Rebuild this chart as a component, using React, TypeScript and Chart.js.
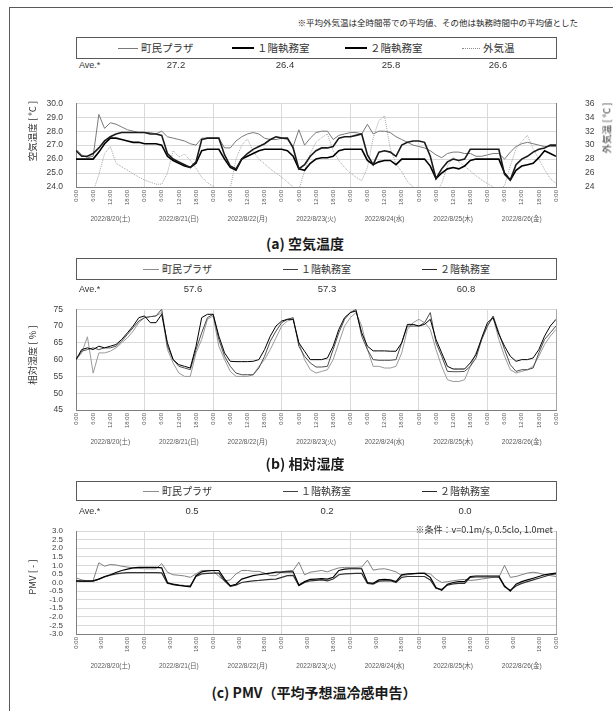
import React, { useEffect, useRef } from 'react';
import { Chart, registerables } from 'chart.js';
Chart.register(...registerables);

const SANS = '"Liberation Sans", "Noto Sans CJK JP", sans-serif';
const CJK = '"Noto Sans CJK JP", "Liberation Sans", sans-serif';
const W = 613;
const PLOT_LEFT = 76;
const PLOT_RIGHT = 556;

// sampling hours (every 2 h over 7 days)
const HOURS = Array.from({ length: 85 }, (_, i) => i * 2);
const DAY_LABELS = ['2022/8/20(土)', '2022/8/21(日)', '2022/8/22(月)', '2022/8/23(火)', '2022/8/24(水)', '2022/8/25(木)', '2022/8/26(金)'];
const TICKS_6H = [0, 6, 12, 18, 24, 30, 36, 42, 48, 54, 60, 66, 72, 78, 84, 90, 96, 102, 108, 114, 120, 126, 132, 138, 144, 150, 156, 162, 168];
const TICKS_9H = [0, 9, 18, 24, 33, 42, 48, 57, 66, 72, 81, 90, 96, 105, 114, 120, 129, 138, 144, 153, 162, 168];

const SERIES_NAMES = ['町民プラザ', '１階執務室', '２階執務室', '外気温'];

// (a) air temperature [°C]
const TEMP_PLAZA = [
  26.7, 26.3, 26.1, 26.2, 29.2, 28.2, 28.6, 28.5, 28.3, 28.1, 28.0, 27.9,
  27.9, 27.9, 27.8, 28.0, 27.6, 27.5, 27.4, 27.3, 27.1, 27.0, 27.5, 27.5,
  27.5, 27.5, 26.8, 26.8, 27.3, 27.6, 27.8, 27.9, 27.8, 27.5, 27.4, 27.4,
  27.5, 27.4, 26.9, 28.1, 27.0, 27.5, 27.9, 28.0, 28.0, 27.4, 27.7, 27.8,
  27.9, 27.9, 27.8, 28.5, 27.8, 28.0, 28.0, 27.9, 27.6, 27.4, 27.2, 27.0,
  26.9, 26.8, 26.6, 26.3, 26.1, 26.4, 26.5, 26.5, 26.4, 26.4, 26.2, 26.2,
  26.3, 26.4, 26.4, 26.0, 26.5, 26.9, 27.1, 27.2, 27.1, 27.0, 26.9, 26.9, 26.9,
];
const TEMP_F1 = [
  26.6, 26.2, 26.2, 26.4, 26.8, 27.3, 27.6, 27.8, 27.9, 27.9, 27.9, 27.9,
  27.9, 27.8, 27.8, 27.7, 26.4, 26.0, 25.8, 25.6, 25.4, 25.8, 27.4, 27.5,
  27.5, 27.5, 26.3, 25.5, 25.3, 26.0, 26.4, 26.7, 26.9, 27.1, 27.4, 27.6,
  27.5, 27.5, 26.8, 25.3, 25.6, 26.2, 26.6, 26.8, 26.8, 26.9, 27.5, 27.6,
  27.6, 27.7, 27.8, 26.3, 25.6, 26.5, 26.6, 26.5, 26.2, 27.0, 27.2, 27.3,
  27.3, 27.2, 26.2, 24.6, 25.3, 25.8, 26.0, 25.9, 26.0, 26.7, 26.7, 26.7,
  26.7, 26.7, 26.7, 24.9, 24.5, 25.6, 26.0, 26.2, 26.5, 26.7, 26.8, 27.0, 27.0,
];
const TEMP_F2 = [
  26.0, 26.0, 26.0, 26.0, 26.5, 27.1, 27.5, 27.5, 27.4, 27.3, 27.2, 27.2,
  27.1, 27.1, 27.1, 27.0, 26.2, 25.9, 25.7, 25.5, 25.4, 25.7, 26.6, 26.7,
  26.7, 26.7, 26.0, 25.4, 25.2, 26.0, 26.2, 26.4, 26.6, 26.7, 26.7, 26.7,
  26.7, 26.6, 26.2, 25.3, 25.2, 25.7, 26.0, 26.1, 26.1, 26.2, 26.6, 26.7,
  26.7, 26.7, 26.7, 25.9, 25.6, 25.8, 25.9, 25.9, 25.6, 26.0, 26.0, 26.0,
  26.0, 26.0, 25.5, 24.6, 25.0, 25.3, 25.4, 25.3, 25.5, 25.9, 26.0, 26.0,
  26.0, 26.0, 26.0, 25.0, 24.5, 25.2, 25.5, 25.6, 25.7, 26.1, 26.6, 26.4, 26.2,
];
const TEMP_OUT = [
  23.0, 22.7, 22.5, 23.3, 25.8, 28.8, 29.8, 27.4, 26.9, 26.4, 25.9, 25.4,
  25.0, 24.7, 24.4, 24.4, 26.0, 29.2, 28.3, 28.7, 27.8, 26.7, 25.4, 24.6,
  24.1, 23.5, 23.0, 23.8, 28.0, 30.0, 30.9, 29.1, 28.0, 27.3, 26.6, 26.0,
  25.4, 24.7, 24.0, 23.6, 26.3, 28.8, 30.4, 31.1, 31.6, 29.2, 27.8, 26.8,
  26.0, 25.4, 24.9, 26.8, 31.0, 33.5, 34.2, 29.5, 27.3, 26.2, 24.8, 24.0,
  23.6, 23.2, 23.0, 23.3, 24.5, 27.0, 28.3, 27.6, 27.0, 26.3, 25.6, 25.0,
  24.5, 24.0, 23.6, 24.2, 27.0, 29.5, 30.5, 31.4, 29.5, 28.0, 26.5, 25.2, 24.5,
];
const TEMP_AVE = ['27.2', '26.4', '25.8', '26.6'];

// (b) relative humidity [%]
const RH_PLAZA = [
  60.0, 62.0, 66.8, 56.0, 62.0, 62.0, 62.5, 63.5, 65.0, 66.5, 68.5, 71.0,
  72.5, 72.8, 73.0, 74.0, 63.0, 59.0, 56.0, 55.0, 55.0, 62.0, 66.0, 72.0,
  73.0, 64.0, 60.0, 56.5, 55.0, 55.0, 55.0, 55.5, 58.0, 60.0, 63.0, 66.5,
  70.0, 71.5, 72.0, 65.0, 60.0, 57.0, 56.0, 56.5, 57.0, 60.0, 65.0, 70.0,
  72.5, 74.0, 70.0, 63.0, 58.0, 58.0, 57.5, 57.5, 58.0, 62.0, 69.0, 71.0,
  72.0, 71.0, 69.0, 63.0, 58.0, 54.0, 53.5, 53.5, 54.0, 58.0, 62.0, 66.0,
  70.0, 72.5, 66.0, 61.0, 57.0, 56.0, 56.5, 57.0, 58.0, 61.0, 64.5, 67.0, 69.0,
];
const RH_F1 = [
  60.0, 62.5, 63.0, 63.5, 63.0, 63.5, 63.5, 64.0, 65.5, 67.5, 69.5, 71.5,
  72.5, 72.8, 73.0, 75.0, 64.0, 60.0, 58.0, 57.5, 57.0, 63.0, 68.0, 72.5,
  73.5, 66.0, 61.0, 58.0, 56.0, 55.5, 55.5, 55.5, 57.5, 61.0, 65.5, 68.5,
  71.0, 72.0, 72.5, 64.0, 61.0, 59.0, 57.8, 57.8, 58.0, 63.0, 68.0, 72.0,
  74.0, 75.0, 67.0, 63.0, 60.0, 59.8, 59.8, 59.8, 60.0, 65.0, 70.0, 70.0,
  70.0, 71.0, 74.0, 65.0, 61.0, 56.5, 56.4, 56.4, 56.5, 58.0, 60.5, 66.0,
  70.0, 73.0, 68.0, 63.0, 58.5, 56.5, 57.0, 57.0, 57.5, 62.0, 66.0, 68.0, 70.0,
];
const RH_F2 = [
  60.0, 63.0, 63.5, 63.0, 64.0, 63.5, 64.0, 64.5, 66.0, 68.0, 70.0, 72.5,
  73.0, 71.0, 71.0, 73.5, 65.0, 60.0, 58.5, 58.0, 57.5, 64.0, 72.5, 73.5,
  73.5, 67.0, 62.0, 59.5, 59.4, 59.4, 59.4, 59.5, 60.0, 63.0, 67.0, 70.0,
  71.5, 72.0, 72.0, 65.0, 62.5, 60.0, 60.0, 60.0, 60.5, 64.0, 69.0, 72.5,
  74.0, 74.5, 68.0, 64.0, 62.6, 62.6, 62.6, 62.5, 62.5, 65.0, 70.5, 70.5,
  70.0, 70.5, 72.0, 66.0, 62.0, 58.0, 57.2, 57.2, 57.2, 59.0, 61.5, 66.5,
  71.0, 72.5, 67.5, 64.0, 61.0, 59.5, 60.0, 60.0, 60.5, 63.0, 67.0, 70.0, 72.0,
];
const RH_AVE = ['57.6', '57.3', '60.8'];

// (c) PMV [-]
const PMV_PLAZA = [
  0.27, 0.15, 0.10, 0.12, 1.15, 0.95, 1.05, 1.02, 0.95, 0.90, 0.85, 0.82,
  0.80, 0.80, 0.80, 1.10, 0.60, 0.45, 0.42, 0.38, 0.30, 0.50, 0.70, 0.70,
  0.70, 0.35, 0.10, 0.15, 0.50, 0.70, 0.70, 0.65, 0.65, 0.55, 0.40, 0.40,
  0.62, 0.68, 0.70, 1.18, 0.45, 0.60, 0.65, 0.70, 0.62, 0.75, 0.85, 0.88,
  0.88, 0.88, 0.90, 1.30, 0.72, 0.78, 0.80, 0.72, 0.62, 0.40, 0.45, 0.50,
  0.55, 0.55, 0.50, 0.20, 0.00, 0.05, 0.10, 0.15, 0.18, 0.12, 0.15, 0.20,
  0.25, 0.30, 0.30, 1.00, 0.30, 0.35, 0.45, 0.55, 0.60, 0.55, 0.45, 0.40, 0.35,
];
const PMV_F1 = [
  0.10, 0.08, 0.08, 0.10, 0.20, 0.35, 0.45, 0.58, 0.70, 0.78, 0.85, 0.88,
  0.88, 0.88, 0.88, 0.85, 0.00, -0.12, -0.17, -0.22, -0.26, 0.40, 0.62, 0.68,
  0.70, 0.70, 0.20, -0.20, -0.10, 0.20, 0.30, 0.40, 0.45, 0.50, 0.55, 0.60,
  0.60, 0.62, 0.62, -0.15, 0.05, 0.18, 0.20, 0.22, 0.20, 0.30, 0.70, 0.78,
  0.80, 0.80, 0.80, 0.00, -0.05, 0.15, 0.18, 0.15, 0.05, 0.45, 0.50, 0.52,
  0.53, 0.53, 0.30, -0.30, -0.45, -0.10, 0.00, 0.05, 0.05, 0.35, 0.38, 0.38,
  0.38, 0.38, 0.38, -0.20, -0.50, -0.10, 0.05, 0.15, 0.25, 0.35, 0.45, 0.50, 0.55,
];
const PMV_F2 = [
  0.08, 0.08, 0.08, 0.08, 0.20, 0.32, 0.42, 0.50, 0.55, 0.57, 0.58, 0.58,
  0.58, 0.58, 0.58, 0.56, -0.05, -0.10, -0.15, -0.18, -0.20, 0.35, 0.50, 0.53,
  0.55, 0.55, 0.10, -0.22, -0.15, 0.00, 0.05, 0.10, 0.12, 0.15, 0.18, 0.20,
  0.30, 0.40, 0.42, -0.18, 0.00, 0.10, 0.12, 0.15, 0.10, 0.20, 0.45, 0.50,
  0.52, 0.53, 0.53, -0.05, -0.10, 0.08, 0.10, 0.10, 0.00, 0.30, 0.35, 0.35,
  0.35, 0.35, 0.15, -0.35, -0.40, -0.15, -0.08, -0.05, -0.05, 0.30, 0.32, 0.32,
  0.32, 0.32, 0.32, -0.25, -0.45, -0.20, -0.05, 0.05, 0.15, 0.25, 0.35, 0.45, 0.50,
];
const PMV_AVE = ['0.5', '0.2', '0.0'];

const pts = (vals: number[]) => HOURS.map((h, i) => ({ x: h, y: vals[i] }));

const dayLabelPlugin = {
  id: 'dayLabels',
  afterDraw(chart: any) {
    const { ctx, chartArea, scales } = chart;
    ctx.save();
    ctx.font = `6.5px ${SANS}`;
    ctx.fillStyle = '#595959';
    ctx.textAlign = 'center';
    ctx.textBaseline = 'middle';
    DAY_LABELS.forEach((t, i) => {
      ctx.fillText(t, scales.x.getPixelForValue(i * 24 + 12), chartArea.bottom + 32);
    });
    ctx.restore();
  },
};

function makeConfig(o: {
  canvasTop: number; canvasHeight: number; plotTop: number; plotBottom: number;
  ticks: number[]; datasets: any[]; y: any; y2?: any;
}) {
  const xHeight = o.canvasHeight - (o.plotBottom - o.canvasTop);
  const scales: any = {
    x: {
      type: 'linear', min: 0, max: 168, position: 'bottom',
      afterBuildTicks: (s: any) => { s.ticks = o.ticks.map((v) => ({ value: v })); },
      afterFit: (s: any) => { s.height = xHeight; },
      ticks: {
        autoSkip: false, minRotation: 90, maxRotation: 90, padding: 3, color: '#595959',
        font: { family: SANS, size: 6 },
        callback: (v: any) => `${Number(v) % 24}:00`,
      },
      grid: {
        drawTicks: false,
        color: (c: any) => (c.tick && c.tick.value % 24 === 0 ? (c.tick.value === 168 ? '#a6a6a6' : '#d9d9d9') : 'rgba(0,0,0,0)'),
      },
      border: { color: '#7f7f7f' },
    },
    y: {
      ...o.y, position: 'left',
      afterFit: (s: any) => { s.width = PLOT_LEFT; },
      grid: { color: '#d9d9d9', drawTicks: false },
      border: { color: '#7f7f7f' },
    },
  };
  if (o.y2) {
    scales.y2 = {
      ...o.y2, position: 'right',
      afterFit: (s: any) => { s.width = W - PLOT_RIGHT; },
      grid: { drawOnChartArea: false, drawTicks: false },
      border: { color: '#7f7f7f' },
    };
  }
  return {
    type: 'line',
    data: { datasets: o.datasets },
    options: {
      responsive: false,
      animation: false,
      events: [],
      layout: { padding: { top: o.plotTop - o.canvasTop, right: o.y2 ? 0 : W - PLOT_RIGHT, left: 0, bottom: 0 } },
      elements: { point: { radius: 0 }, line: { tension: 0 } },
      plugins: { legend: { display: false }, tooltip: { enabled: false }, title: { display: false } },
      scales,
    },
    plugins: [dayLabelPlugin],
  } as any;
}

const yTicks = (extra: any) => ({ autoSkip: false, color: '#404040', font: { family: SANS, size: 8.5, lineHeight: 1 }, padding: 13, ...extra });

function ChartCanvas({ top, height, config }: { top: number; height: number; config: () => any }) {
  const ref = useRef<HTMLCanvasElement>(null);
  useEffect(() => {
    const chart = new Chart(ref.current as HTMLCanvasElement, config());
    return () => chart.destroy();
  }, []);
  return <canvas ref={ref} width={W} height={height} style={{ position: 'absolute', left: 0, top, width: W, height }} />;
}

function Txt({ x, y, children, size = 9, font = SANS, align = 'center', weight = 400, color = '#333' }: any) {
  const tx = align === 'center' ? '-50%' : align === 'right' ? '-100%' : '0';
  return (
    <div style={{ position: 'absolute', left: x, top: y, transform: `translate(${tx}, -50%)`, fontSize: size, fontFamily: font, fontWeight: weight, color, whiteSpace: 'nowrap', lineHeight: 1 }}>
      {children}
    </div>
  );
}

function VTxt({ x, y, children, size = 9.5 }: any) {
  return (
    <div style={{ position: 'absolute', left: x, top: y, transform: 'translate(-50%, -50%) rotate(-90deg)', fontSize: size, fontFamily: CJK, color: '#333', whiteSpace: 'nowrap', lineHeight: 1 }}>
      {children}
    </div>
  );
}

function LegendLine({ x, y, w, style }: any) {
  return <div style={{ position: 'absolute', left: x, top: y, width: w, height: 0, borderTop: style }} />;
}

function LegendBox({ top, height }: any) {
  return <div style={{ position: 'absolute', left: PLOT_LEFT, top, width: PLOT_RIGHT - PLOT_LEFT + 1, height, boxSizing: 'border-box', border: '1px solid #595959' }} />;
}

export default function App() {
  const cfgA = () => makeConfig({
    canvasTop: 70, canvasHeight: 160, plotTop: 76, plotBottom: 187, ticks: TICKS_6H,
    y: { min: 24, max: 30, ticks: yTicks({ stepSize: 1, callback: (v: any) => Number(v).toFixed(1) }) },
    y2: { min: 24, max: 36, ticks: yTicks({ stepSize: 2, padding: 29, callback: (v: any) => String(v) }) },
    datasets: [
      { label: SERIES_NAMES[1], data: pts(TEMP_F1), borderColor: '#1a1a1a', borderWidth: 1.6, yAxisID: 'y' },
      { label: SERIES_NAMES[2], data: pts(TEMP_F2), borderColor: '#000000', borderWidth: 1.6, yAxisID: 'y' },
      { label: SERIES_NAMES[0], data: pts(TEMP_PLAZA), borderColor: '#7a7a7a', borderWidth: 1, yAxisID: 'y' },
      { label: SERIES_NAMES[3], data: pts(TEMP_OUT), borderColor: '#a6a6a6', borderWidth: 1, borderDash: [1, 1], yAxisID: 'y2' },
    ],
  });
  const cfgB = () => makeConfig({
    canvasTop: 292, canvasHeight: 165, plotTop: 298, plotBottom: 410, ticks: TICKS_6H,
    y: { min: 45, max: 75, ticks: yTicks({ stepSize: 5, callback: (v: any) => String(v) }) },
    datasets: [
      { label: SERIES_NAMES[2], data: pts(RH_F2), borderColor: '#000000', borderWidth: 1 },
      { label: SERIES_NAMES[1], data: pts(RH_F1), borderColor: '#4d4d4d', borderWidth: 1 },
      { label: SERIES_NAMES[0], data: pts(RH_PLAZA), borderColor: '#9a9a9a', borderWidth: 1 },
    ],
  });
  const cfgC = () => makeConfig({
    canvasTop: 514, canvasHeight: 165, plotTop: 520, plotBottom: 634, ticks: TICKS_9H,
    y: { min: -3, max: 3, ticks: yTicks({ stepSize: 0.5, font: { family: SANS, size: 8, lineHeight: 1 }, callback: (v: any) => Number(v).toFixed(1) }) },
    datasets: [
      { label: SERIES_NAMES[1], data: pts(PMV_F1), borderColor: '#000000', borderWidth: 1.2 },
      { label: SERIES_NAMES[2], data: pts(PMV_F2), borderColor: '#333333', borderWidth: 1.2 },
      { label: SERIES_NAMES[0], data: pts(PMV_PLAZA), borderColor: '#808080', borderWidth: 1 },
    ],
  });

  const legendBC = (ty: number) => (
    <>
      <LegendLine x={143} y={ty} w={16} style="1px solid #8c8c8c" />
      <Txt x={162} y={ty} align="left" size={10} font={CJK}>{SERIES_NAMES[0]}</Txt>
      <LegendLine x={283} y={ty} w={15} style="1px solid #404040" />
      <Txt x={301} y={ty} align="left" size={10} font={CJK}>{SERIES_NAMES[1]}</Txt>
      <LegendLine x={422} y={ty} w={15} style="1px solid #262626" />
      <Txt x={440} y={ty} align="left" size={10} font={CJK}>{SERIES_NAMES[2]}</Txt>
    </>
  );

  return (
    <div style={{ position: 'fixed', left: 0, top: 0, width: W, height: 711, overflow: 'hidden', background: '#ffffff' }}>
      <div style={{ position: 'absolute', left: 9, top: 7, width: 700, height: 800, borderLeft: '1px solid #595959', borderTop: '1px solid #595959' }} />

      <ChartCanvas top={70} height={160} config={cfgA} />
      <ChartCanvas top={292} height={165} config={cfgB} />
      <ChartCanvas top={514} height={165} config={cfgC} />

      {/* panel (a) */}
      <Txt x={578} y={22} align="right" size={8.5} font={CJK} color="#262626">※平均外気温は全時間帯での平均値、その他は執務時間中の平均値とした</Txt>
      <LegendBox top={37} height={22} />
      <LegendLine x={118} y={48} w={20} style="1px solid #7a7a7a" />
      <Txt x={141} y={48} align="left" size={10.5} font={CJK}>{SERIES_NAMES[0]}</Txt>
      <LegendLine x={232} y={47} w={22} style="2px solid #000" />
      <Txt x={257} y={48} align="left" size={10.5} font={CJK}>{SERIES_NAMES[1]}</Txt>
      <LegendLine x={345} y={47} w={22} style="2px solid #000" />
      <Txt x={370} y={48} align="left" size={10.5} font={CJK}>{SERIES_NAMES[2]}</Txt>
      <LegendLine x={462} y={48} w={18} style="1px dotted #8c8c8c" />
      <Txt x={483} y={48} align="left" size={10.5} font={CJK}>{SERIES_NAMES[3]}</Txt>
      <Txt x={79} y={65} align="left" size={9}>Ave.*</Txt>
      {TEMP_AVE.map((v, i) => <Txt key={'a' + i} x={[176, 285, 391, 498][i]} y={65} size={9.5}>{v}</Txt>)}
      <VTxt x={33} y={131}>空気温度 [ °C ]</VTxt>
      <VTxt x={607} y={128}>外気温 [ °C ]</VTxt>
      <Txt x={305} y={243} size={14} weight={700} font={CJK} color="#1a1a1a">(a) 空気温度</Txt>

      {/* panel (b) */}
      <LegendBox top={258} height={22} />
      {legendBC(269)}
      <Txt x={79} y={289} align="left" size={9}>Ave.*</Txt>
      {RH_AVE.map((v, i) => <Txt key={'b' + i} x={[193, 327, 466][i]} y={289} size={9.5}>{v}</Txt>)}
      <VTxt x={33} y={355}>相対湿度 [ % ]</VTxt>
      <Txt x={305} y={463} size={14} weight={700} font={CJK} color="#1a1a1a">(b) 相対湿度</Txt>

      {/* panel (c) */}
      <LegendBox top={481} height={20} />
      {legendBC(491)}
      <Txt x={79} y={511} align="left" size={9}>Ave.*</Txt>
      {PMV_AVE.map((v, i) => <Txt key={'c' + i} x={[192, 327, 465][i]} y={511} size={9.5}>{v}</Txt>)}
      <Txt x={553} y={529} align="right" size={9} font={CJK} color="#333">※条件：v=0.1m/s, 0.5clo, 1.0met</Txt>
      <VTxt x={33} y={577}>PMV [ - ]</VTxt>
      <Txt x={314} y={692} size={14} weight={700} font={CJK} color="#1a1a1a">(c) PMV（平均予想温冷感申告）</Txt>
    </div>
  );
}
